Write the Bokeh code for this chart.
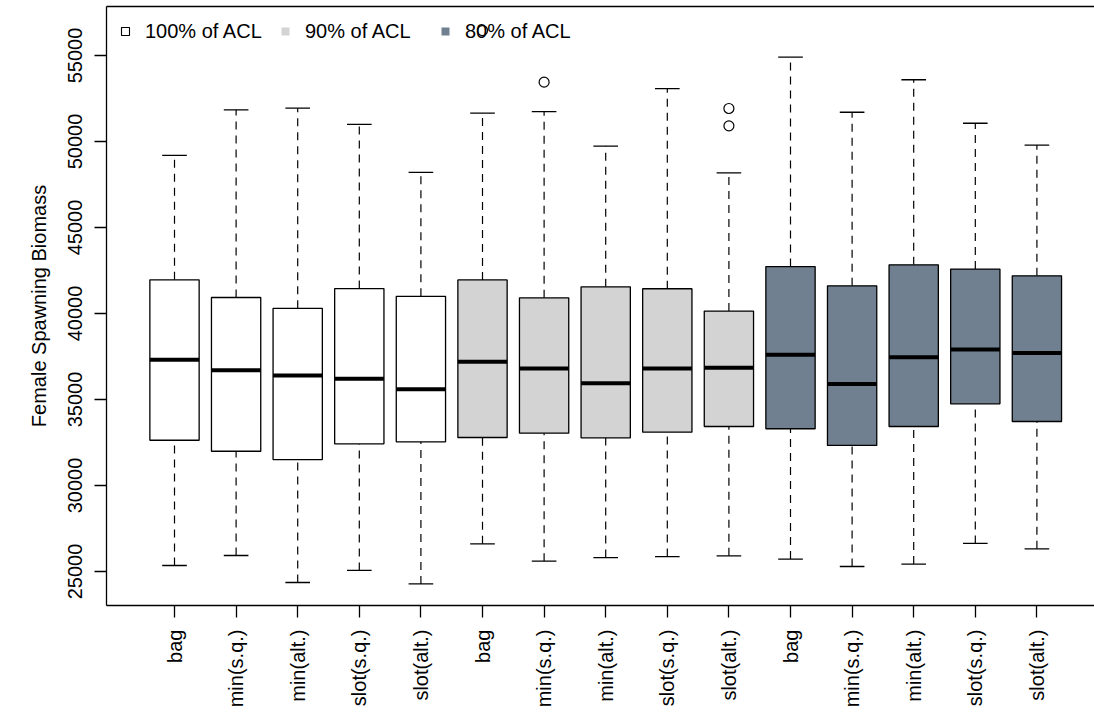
import math
from bokeh.plotting import figure
from bokeh.models import FixedTicker, LinearAxis, Legend, LegendItem, ColumnDataSource, Range1d
from bokeh.embed import file_html
from bokeh.resources import INLINE

# Management scenarios, repeated for each catch-limit level
scenarios = ["bag", "min(s.q.)", "min(alt.)", "slot(s.q.)", "slot(alt.)"]
levels = ["100% of ACL", "90% of ACL", "80% of ACL"]
level_colors = ["#FFFFFF", "#D3D3D3", "#708090"]

# Box statistics (female spawning biomass), 15 boxes in level order
whisker_low = [25350, 25930, 24360, 25060, 24280,
               26610, 25600, 25810, 25870, 25910,
               25720, 25290, 25430, 26630, 26320]
quart_low = [32630, 31990, 31510, 32420, 32540,
             32790, 33040, 32770, 33100, 33430,
             33300, 32330, 33430, 34750, 33720]
medians = [37310, 36700, 36400, 36200, 35600,
           37200, 36800, 35950, 36800, 36850,
           37600, 35900, 37460, 37910, 37710]
quart_high = [41960, 40930, 40300, 41450, 41000,
              41950, 40910, 41550, 41440, 40140,
              42730, 41610, 42830, 42580, 42190]
whisker_high = [49190, 51840, 51940, 51000, 48200,
                51650, 51740, 49730, 53080, 48180,
                54900, 51700, 53590, 51060, 49790]

# Outlying runs: (box number, value)
outlier_box = [6, 7, 10, 10]
outlier_val = [56450, 53450, 51920, 50910]

y_ticks = [25000, 30000, 35000, 40000, 45000, 50000, 55000]

FONT = "Liberation Sans"
FS = "20px"

n = len(medians)
pos = list(range(1, n + 1))
box_w = 0.8
cap_w = 0.4
labels = scenarios * len(levels)
fills = [c for c in level_colors for _ in scenarios]

src = ColumnDataSource(dict(
    x=pos, lo=whisker_low, q1=quart_low, med=medians, q3=quart_high, hi=whisker_high,
    fill=fills,
    bx0=[p - box_w / 2 for p in pos], bx1=[p + box_w / 2 for p in pos],
    cx0=[p - cap_w / 2 for p in pos], cx1=[p + cap_w / 2 for p in pos],
))

p = figure(width=1094, height=715, output_backend="svg", toolbar_location=None,
           x_range=Range1d(-0.104, 15.935), y_range=Range1d(23023, 57849),
           min_border_left=106, min_border_right=0, min_border_top=6, min_border_bottom=110)
p.outline_line_color = None
p.xgrid.grid_line_color = None
p.ygrid.grid_line_color = None
p.background_fill_color = "white"
p.border_fill_color = "white"

# Whiskers (dashed) and caps
p.segment(x0="x", y0="q3", x1="x", y1="hi", source=src, line_color="black",
          line_width=1.2, line_dash="8 6")
p.segment(x0="x", y0="lo", x1="x", y1="q1", source=src, line_color="black",
          line_width=1.2, line_dash="8 6")
p.segment(x0="cx0", y0="hi", x1="cx1", y1="hi", source=src, line_color="black", line_width=1.3)
p.segment(x0="cx0", y0="lo", x1="cx1", y1="lo", source=src, line_color="black", line_width=1.3)

# Boxes and medians
p.vbar(x="x", width=box_w, bottom="q1", top="q3", source=src, fill_color="fill",
       line_color="black", line_width=1.3)
p.segment(x0="bx0", y0="med", x1="bx1", y1="med", source=src, line_color="black", line_width=4)

# Outliers
p.scatter(x=outlier_box, y=outlier_val, marker="circle", size=10, fill_color=None,
          line_color="black", line_width=1.2)

# Legend entries (key glyphs only; their points are not plotted)
items = []
for i, lab in enumerate(levels):
    r = p.scatter(x=[math.nan], y=[math.nan], marker="square", size=9,
                  fill_color=level_colors[i],
                  line_color="black" if i == 0 else None, line_width=1.1)
    items.append(LegendItem(label=lab, renderers=[r]))
legend = Legend(items=items, orientation="horizontal", location="top_left",
                margin=9, padding=0, glyph_width=20, glyph_height=32,
                label_height=32, label_width=120, label_standoff=10, spacing=10,
                label_text_font=FONT, label_text_font_size=FS, label_text_color="black",
                border_line_color=None, background_fill_alpha=0)
p.add_layout(legend)

# Axes
xa = p.xaxis[0]
xa.ticker = FixedTicker(ticks=pos)
xa.major_label_overrides = {i: labels[i - 1] for i in pos}
xa.major_label_orientation = math.pi / 2
ya = p.yaxis[0]
ya.ticker = FixedTicker(ticks=y_ticks)
ya.major_label_orientation = "vertical"
ya.axis_label = "Female Spawning Biomass"
for ax in (xa, ya):
    ax.axis_line_width = 1.3
    ax.major_tick_line_width = 1.3
    ax.major_tick_out = 12
    ax.major_tick_in = 0
    ax.minor_tick_line_color = None
    ax.major_label_text_font = FONT
    ax.major_label_text_font_size = FS
    ax.major_label_text_color = "black"
    ax.major_label_standoff = 12
ya.axis_label_text_font = FONT
ya.axis_label_text_font_size = FS
ya.axis_label_text_font_style = "normal"
ya.axis_label_text_color = "black"
ya.axis_label_standoff = 16

# Top border of the plotting region
top = LinearAxis(ticker=FixedTicker(ticks=[]), axis_line_width=1.3,
                 major_tick_line_color=None, minor_tick_line_color=None,
                 major_label_text_font_size="0px")
p.add_layout(top, "above")

open("out.html", "w").write(file_html(p, INLINE))
